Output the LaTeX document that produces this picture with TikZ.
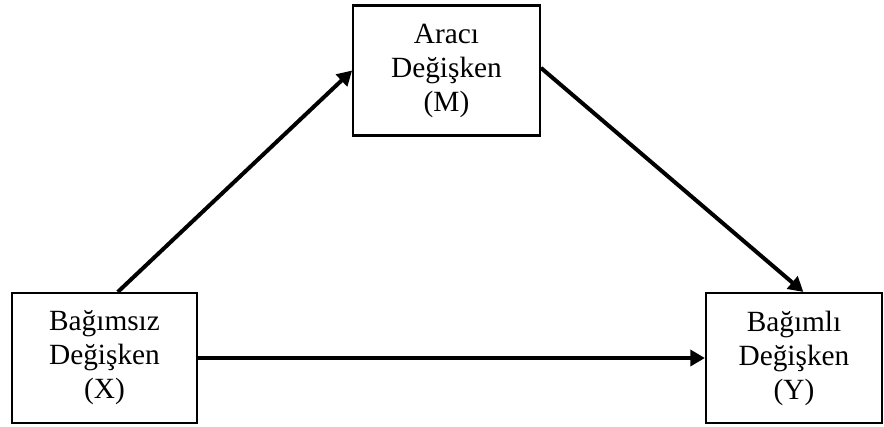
\documentclass[tikz,border=0pt]{standalone}
\usepackage{fontspec}
\setmainfont{Liberation Serif}
\usetikzlibrary{arrows.meta}

\tikzset{
  varbox/.style={draw, line width=1.6pt, align=center, inner sep=0pt,
    minimum height=97.5pt, font=\fontsize{22}{25.5}\selectfont},
  link/.style={line width=3pt, -{Triangle[length=11pt,width=12pt]}}
}

\begin{document}
\begin{tikzpicture}[x=0.75pt, y=-0.75pt]
            \useasboundingbox (0,0) rectangle (884,426);
            % the three variables
            \node[varbox, minimum width=138.75pt] (X) at (104.5,358) {Bağımsız\\Değişken\\(X)};
            \node[varbox, minimum width=140pt] (M) at (446.5,70.5) {Aracı\\Değişken\\(M)};
            \node[varbox, minimum width=132pt] (Y) at (794,358) {Bağımlı\\Değişken\\(Y)};
            % paths
            \draw[link] ([xshift=10pt]X.north) -- (M.west);
            \draw[link] ([yshift=2pt]M.east) -- ([xshift=7pt]Y.north);
            \draw[link] (X.east) -- (Y.west);
        \end{tikzpicture}
\end{document}
